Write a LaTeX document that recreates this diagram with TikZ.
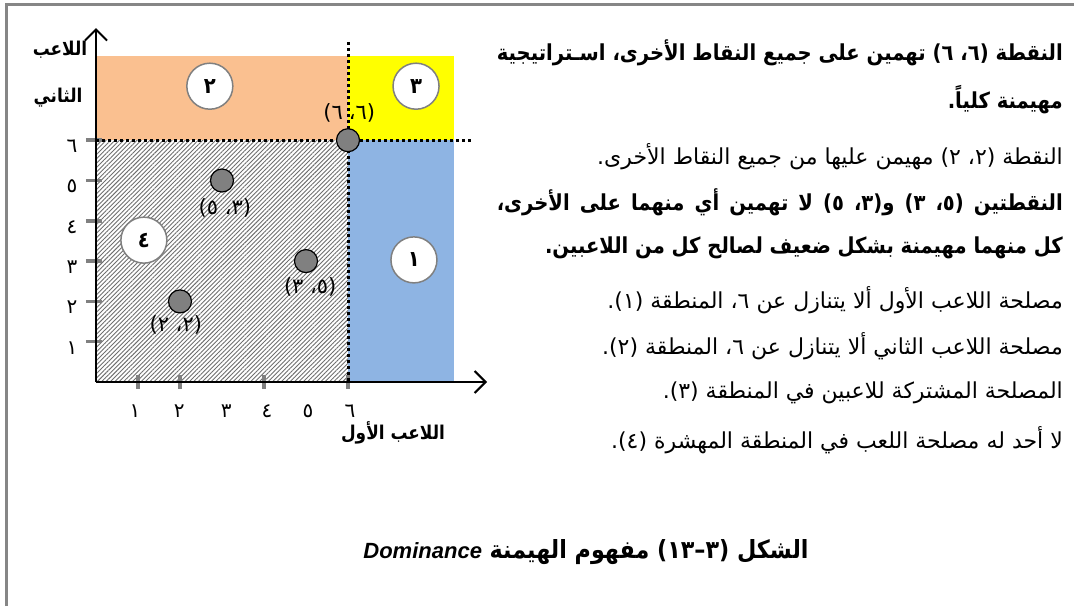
\documentclass[tikz,border=0pt]{standalone}
\usepackage{fontspec}
\newfontfamily\arabicfont[Script=Arabic, BoldFeatures={FakeStretch=0.89}]{DejaVu Sans}
\newfontfamily\latinfont{Liberation Sans}
\TeXXeTstate=1
\usetikzlibrary{patterns.meta, arrows.meta}
\definecolor{peach}{HTML}{FAC090}
\definecolor{skyb}{HTML}{8EB4E3}
\definecolor{yel}{HTML}{FFFF00}
\definecolor{ptgray}{HTML}{808080}
\definecolor{tickgray}{HTML}{808080}
\definecolor{framegray}{HTML}{868686}
\definecolor{hatchgray}{HTML}{6E6E6E}
\tikzset{
  ptnode/.style={circle, fill=ptgray, draw=black, line width=1.2pt, minimum size=23pt, inner sep=0pt},
  regnode/.style={circle, fill=white, draw=tickgray, line width=1.5pt, minimum size=46pt, inner sep=0pt,
    font=\arabicfont\bfseries\fontsize{22}{22}\selectfont},
  ticklab/.style={font=\arabicfont\fontsize{20}{20}\selectfont, inner sep=0pt},
  coordlab/.style={font=\arabicfont\fontsize{21}{21}\selectfont, inner sep=0pt},
  axislab/.style={font=\arabicfont\bfseries\fontsize{19}{19}\selectfont, inner sep=0pt},
  txt/.style={anchor=east, inner sep=0pt, font=\arabicfont\fontsize{22}{22}\selectfont},
  btxt/.style={anchor=east, inner sep=0pt, font=\arabicfont\bfseries\fontsize{22}{22}\selectfont},
  tickline/.style={draw=tickgray, line width=3.5pt},
  dotline/.style={line width=3pt, dash pattern=on 3pt off 3pt},
  axisline/.style={line width=2pt, -{Straight Barb[length=11pt,width=22pt,line width=2pt]}},
}
\begin{document}
\begin{tikzpicture}[x=1pt,y=-1pt]
\useasboundingbox (0,0) rectangle (1074,606);
% frame
\draw[framegray, line width=3.5pt] (6.5,606) -- (6.5,4.5) -- (1074,4.5);
% plot
\begin{scope}[shift={(96,382)}, x=42pt, y=40.3pt]
  \fill[peach] (0,6) rectangle (6,8.1);
  \fill[yel] (6,6) rectangle (8.52,8.1);
  \fill[skyb] (6,0) rectangle (8.52,6);
  \fill[pattern={Lines[angle=45,distance=3.1pt,line width=0.9pt]}, pattern color=hatchgray] (0,0) rectangle (6,6);
  % ticks
  \foreach \k in {1,...,6} { \draw[tickline] (-0.24,\k) -- (0.15,\k); }
  \foreach \k in {1,2,4,6} { \draw[tickline] (\k,0.17) -- (\k,-0.17); }
  % dotted guide lines
  \coordinate (vtop) at (6,8.44);
  \coordinate (vbot) at (6,0);
  \coordinate (hleft) at (0,6);
  \coordinate (hright) at (8.98,6);
  % (6,6) label under the dotted line
  \node[coordlab] (l66) at (6.03,6.67) {\beginR(٦،\hspace{6pt}٦)\endR};
  \draw[dotline] (vtop) -- (vbot);
  \draw[dotline] (hleft) -- (hright);
  % axes
  \coordinate (O) at (0,0);
  \coordinate (xend) at (9.31,0);
  \coordinate (yend) at (0,8.78);
  \draw[axisline] (O) -- (xend);
  \draw[axisline] (O) -- (yend);
  % tick labels
  \node[ticklab] (y1) at (-0.57,0.85) {١};
  \node[ticklab] (y2) at (-0.57,1.85) {٢};
  \node[ticklab] (y3) at (-0.57,2.85) {٣};
  \node[ticklab] (y4) at (-0.57,3.85) {٤};
  \node[ticklab] (y5) at (-0.57,4.85) {٥};
  \node[ticklab] (y6) at (-0.57,5.85) {٦};
  \node[ticklab] (x1) at (0.93,-0.72) {١};
  \node[ticklab] (x2) at (1.98,-0.72) {٢};
  \node[ticklab] (x3) at (3.1,-0.72) {٣};
  \node[ticklab] (x4) at (4.07,-0.72) {٤};
  \node[ticklab] (x5) at (5.05,-0.72) {٥};
  \node[ticklab] (x6) at (6.05,-0.72) {٦};
  % region circles
  \node[regnode] (r2) at (2.71,7.34) {٢};
  \node[regnode] (r3) at (7.62,7.34) {٣};
  \node[regnode] (r1) at (7.57,3.03) {١};
  \node[regnode] (r4) at (1.14,3.52) {\raisebox{-5pt}{٤}};
  % points
  \node[ptnode] (p22) at (2,2) {};
  \node[ptnode] (p35) at (3,5) {};
  \node[ptnode] (p53) at (5,3) {};
  \node[ptnode] (p66) at (6,6) {};
  \node[coordlab] (l22) at (1.9,1.41) {\beginR(٢، ٢)\endR};
  \node[coordlab] (l35) at (3.07,4.32) {\beginR(٣، ٥)\endR};
  \node[coordlab] (l53) at (5.1,2.36) {\beginR(٥، ٣)\endR};
\end{scope}
% axis labels
\node[axislab] (ya1) at (60,50) {\beginR اللاعب\endR};
\node[axislab] (ya2) at (58,98) {\beginR الثاني\endR};
\node[axislab] (xa) at (393,433) {\beginR اللاعب الأول\endR};
% right text
\node[btxt] (t1) at (1063,53) {\makebox[566pt][s]{\beginR النقطة (٦، ٦) تهمين على جميع النقاط الأخرى، اسـتراتيجية\endR}};
\node[btxt] (t2) at (1063,100) {\beginR مهيمنة كلياً.\endR};
\node[txt] (t3) at (1063,157) {\beginR النقطة (٢، ٢) مهيمن عليها من جميع النقاط الأخرى.\endR};
\node[btxt] (t4) at (1063,202) {\makebox[566pt][s]{\beginR النقطتين (٥، ٣) و(٣، ٥) لا تهمين أي منهما على الأخرى،\endR}};
\node[btxt] (t5) at (1063,248) {\beginR كل منهما مهيمنة بشكل ضعيف لصالح كل من اللاعبين.\endR};
\node[txt] (t6) at (1063,300) {\beginR مصلحة اللاعب الأول ألا يتنازل عن ٦، المنطقة (١).\endR};
\node[txt] (t7) at (1063,346) {\beginR مصلحة اللاعب الثاني ألا يتنازل عن ٦، المنطقة (٢).\endR};
\node[txt] (t8) at (1063,393) {\beginR المصلحة المشتركة للاعبين في المنطقة (٣).\endR};
\node[txt] (t9) at (1063,440) {\beginR لا أحد له مصلحة اللعب في المنطقة المهشرة (٤).\endR};
% caption
\node[inner sep=0pt, font=\arabicfont\bfseries\fontsize{25}{25}\selectfont] (cap) at (586,552)
  {\beginR الشكل (٣–١٣) مفهوم الهيمنة \beginL{\latinfont\bfseries\itshape\fontsize{22}{22}\selectfont Dominance}\endL\endR};
\end{tikzpicture}
\end{document}
